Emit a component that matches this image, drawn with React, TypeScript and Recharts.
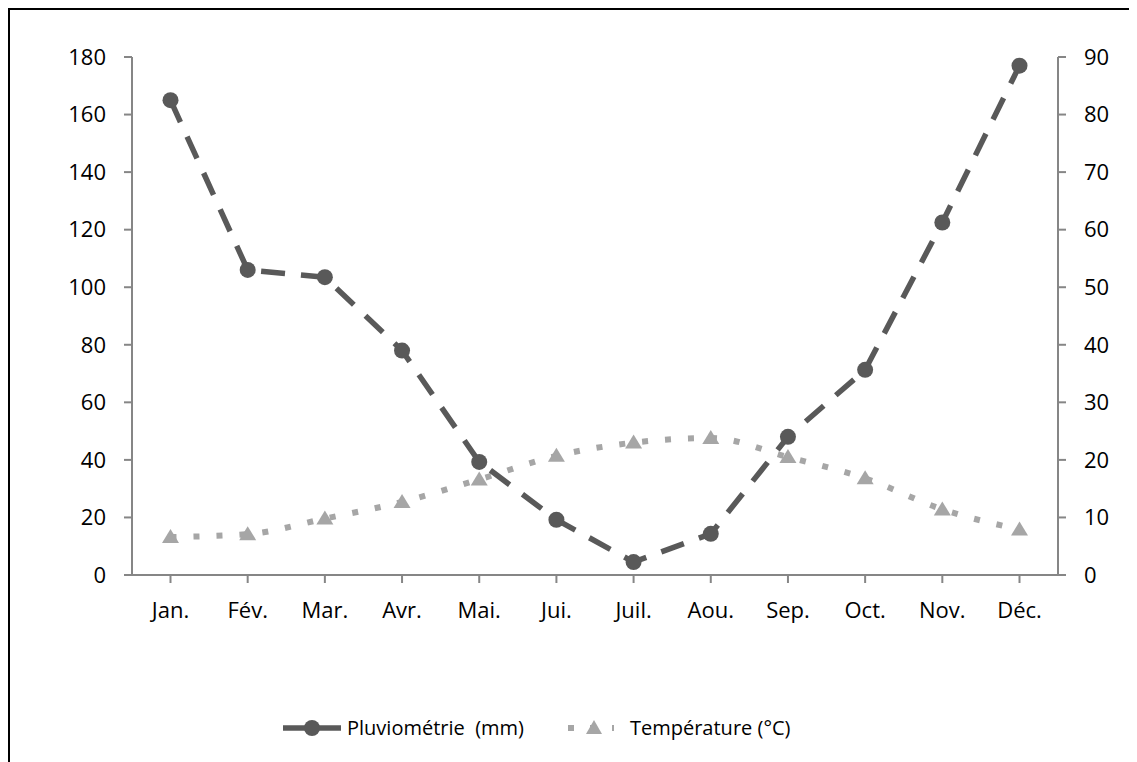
import React from "react";
import {
  ComposedChart,
  Line,
  XAxis,
  YAxis,
  Legend,
} from "recharts";

const months = ["Jan.", "Fév.", "Mar.", "Avr.", "Mai.", "Jui.", "Juil.", "Aou.", "Sep.", "Oct.", "Nov.", "Déc."];
const rainfall = [165, 106, 103.5, 78, 39.3, 19.2, 4.5, 14.3, 48, 71.3, 122.5, 177];
const temperature = [6.6, 7.1, 9.8, 12.7, 16.6, 20.7, 23, 23.8, 20.5, 16.8, 11.4, 7.9];
const leftTicks = [0, 20, 40, 60, 80, 100, 120, 140, 160, 180];
const rightTicks = [0, 10, 20, 30, 40, 50, 60, 70, 80, 90];

const data = months.map((m, i) => ({
  month: m,
  rain: rainfall[i],
  temp: temperature[i],
}));

const RAIN = "#595959";
const TEMP = "#A6A6A6";
const AXIS = "#868686";
const FONT = "'Open Sans', sans-serif";

const TriangleDot = (props: any) => {
  const { cx, cy, index } = props;
  if (cx == null || cy == null) return null;
  return (
    <polygon
      key={`tri-${index}`}
      points={`${cx},${cy - 8} ${cx + 8.5},${cy + 6} ${cx - 8.5},${cy + 6}`}
      fill={TEMP}
    />
  );
};

const ChartLegend = () => (
  <div
    style={{
      display: "flex",
      justifyContent: "flex-start",
      alignItems: "center",
      paddingLeft: 275,
      fontFamily: FONT,
      fontSize: 20,
      color: "#000",
    }}
  >
    <svg width={58} height={20} style={{ marginRight: 6 }}>
      <line x1={0} y1={10} x2={58} y2={10} stroke={RAIN} strokeWidth={5.5} />
      <circle cx={29} cy={10} r={8} fill={RAIN} />
    </svg>
    <span style={{ marginRight: 42 }}>Pluviométrie&nbsp; (mm)</span>
    <svg width={48} height={20} style={{ marginRight: 16 }}>
      <line x1={0} y1={10} x2={48} y2={10} stroke={TEMP} strokeWidth={6} strokeDasharray="6 16" strokeDashoffset={-2} />
      <polygon points="28,2 36,16 20,16" fill={TEMP} />
    </svg>
    <span>Température (°C)</span>
  </div>
);

export default function App() {
  return (
    <div
      style={{
        width: 1129,
        height: 754,
        borderTop: "2px solid #000",
        borderLeft: "2px solid #000",
        boxSizing: "border-box",
        position: "relative",
      }}
    >
      <div style={{ position: "absolute", left: -2, top: -2 }}>
        <ComposedChart
          width={1129}
          height={754}
          data={data}
          margin={{ top: 49, right: 19, left: 64, bottom: 147 }}
          style={{ fontFamily: FONT }}
        >
          <XAxis
            dataKey="month"
            stroke={AXIS}
            strokeWidth={2}
            tickSize={8}
            tickMargin={19}
            height={40}
            padding={{ left: 38.5, right: 38.5 }}
            tick={{ fill: "#000", fontSize: 22, fontFamily: FONT }}
            interval={0}
          />
          <YAxis
            yAxisId="left"
            domain={[0, 180]}
            ticks={leftTicks}
            stroke={AXIS}
            strokeWidth={2}
            tickSize={8}
            tickMargin={18}
            width={60}
            tick={{ fill: "#000", fontSize: 22, fontFamily: FONT }}
            interval={0}
          />
          <YAxis
            yAxisId="right"
            orientation="right"
            domain={[0, 90]}
            ticks={rightTicks}
            stroke={AXIS}
            strokeWidth={2}
            tickSize={8}
            tickMargin={18}
            width={60}
            tick={{ fill: "#000", fontSize: 22, fontFamily: FONT }}
            interval={0}
          />
          <Line
            yAxisId="right"
            type="monotone"
            dataKey="temp"
            stroke={TEMP}
            strokeWidth={6}
            strokeDasharray="6 17"
            dot={<TriangleDot />}
            activeDot={false}
            isAnimationActive={false}
          />
          <Line
            yAxisId="left"
            type="linear"
            dataKey="rain"
            stroke={RAIN}
            strokeWidth={5.5}
            strokeDasharray="24 16"
            dot={{ r: 8, fill: RAIN, stroke: "none" }}
            activeDot={false}
            isAnimationActive={false}
          />
          <Legend
            layout="horizontal"
            verticalAlign="middle"
            align="center"
            wrapperStyle={{ top: 706, left: 0, width: 1129 }}
            content={<ChartLegend />}
          />
        </ComposedChart>
      </div>
    </div>
  );
}
